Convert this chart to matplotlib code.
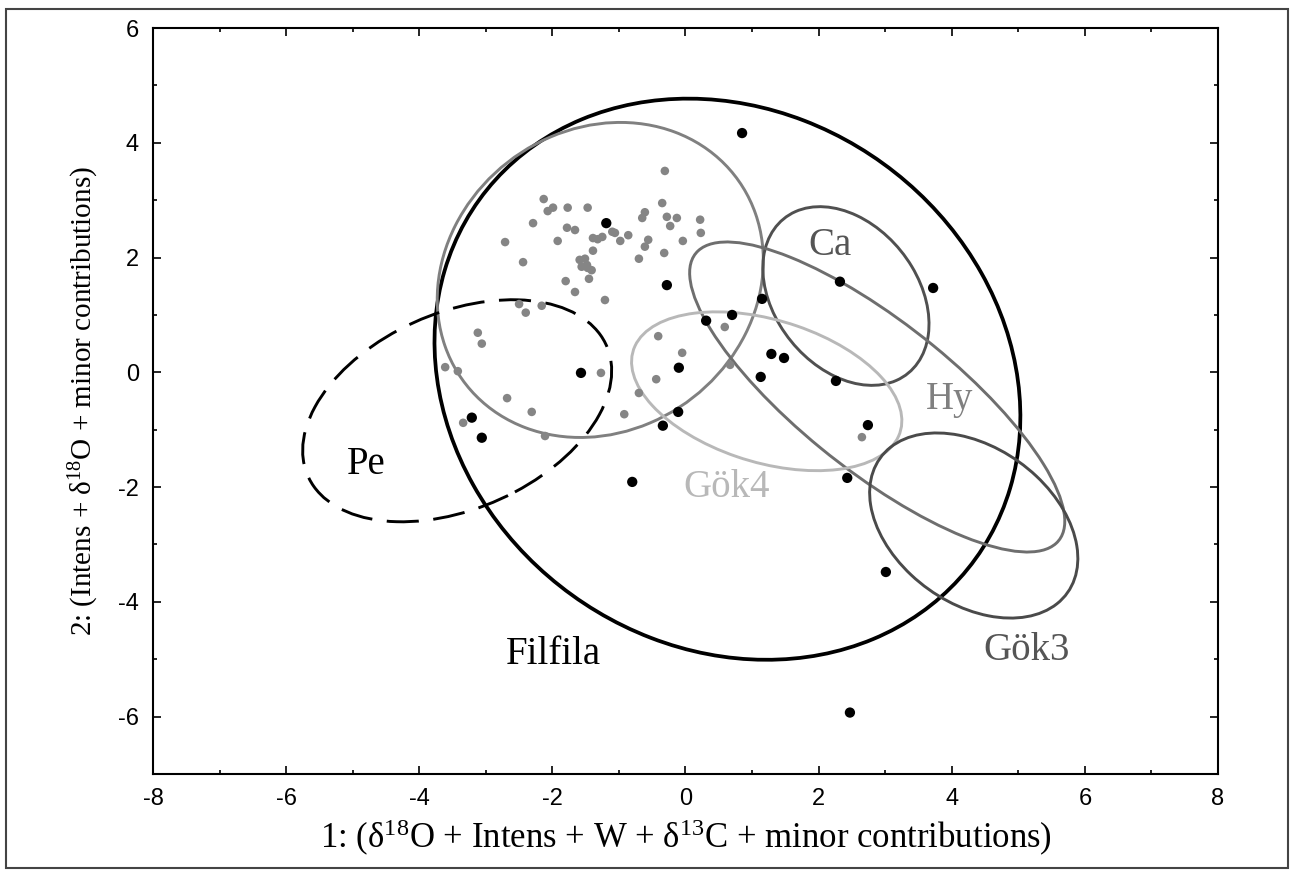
import numpy as np
import matplotlib
matplotlib.use('Agg')
import matplotlib.pyplot as plt
from matplotlib.patches import Ellipse, Rectangle
from matplotlib.ticker import MultipleLocator

plt.rcParams['mathtext.fontset'] = 'custom'
plt.rcParams['mathtext.rm'] = 'Liberation Serif'
plt.rcParams['mathtext.default'] = 'rm'
plt.rcParams['axes.unicode_minus'] = False

# gray samples (scores on factor 1 / factor 2)
gray_x = [-0.31, -2.13, -2.07, -1.99, -1.77, -1.47, -2.29, -1.78, -1.66, -2.71,
          -1.92, -1.39, -1.39, -1.32, -1.25, -1.10, -1.06, -0.98, -0.86, -0.65,
          -0.61, -0.35, -0.28, -0.13, -0.23, 0.22, 0.23, -0.56, -0.61, -0.04,
          -0.32, -0.70, -2.44, -1.59, -1.51, -1.56, -1.47, -1.41, -1.48, -1.45,
          -1.80, -1.66, -1.21, -2.50, -2.16, -2.40, -3.12, -3.06, -3.61, -3.42,
          -1.27, -2.68, -2.31, -3.34, -2.11, 0.59, -0.41, -0.05, -0.44, -0.70,
          0.67, -0.92, 2.65]
gray_y = [3.51, 3.02, 2.81, 2.87, 2.87, 2.87, 2.60, 2.52, 2.48, 2.27,
          2.29, 2.12, 2.34, 2.32, 2.36, 2.45, 2.43, 2.29, 2.39, 2.69,
          2.79, 2.95, 2.71, 2.69, 2.55, 2.66, 2.43, 2.31, 2.19, 2.29,
          2.08, 1.98, 1.92, 1.96, 1.98, 1.84, 1.82, 1.78, 1.87, 1.63,
          1.59, 1.40, 1.26, 1.19, 1.16, 1.04, 0.69, 0.50, 0.09, 0.02,
          -0.01, -0.45, -0.69, -0.88, -1.11, 0.79, 0.63, 0.34, -0.12, -0.36,
          0.13, -0.73, -1.13]

# black samples
black_x = [-3.21, -3.06, -1.57, -0.28, -1.19, -0.80, -0.34, -0.11, -0.10, 0.31,
           0.70, 1.15, 1.29, 1.48, 1.13, 2.26, 2.32, 3.72, 2.74, 2.43,
           3.01, 2.47, 0.85]
black_y = [-0.79, -1.14, -0.01, 1.52, 2.60, -1.91, -0.93, -0.69, 0.08, 0.90,
           1.00, 1.28, 0.32, 0.25, -0.08, -0.15, 1.58, 1.47, -0.92, -1.84,
           -3.48, -5.93, 4.17]

# confidence ellipses
ell_names = ['Filfila', 'group', 'Pe', 'Ca', 'Hy', 'Gök4', 'Gök3']
ell_cx = [0.63, -1.28, -3.43, 2.41, 2.88, 1.22, 4.33]
ell_cy = [-0.12, 1.61, -0.67, 1.33, -0.43, -0.33, -2.67]
ell_w = [8.48, 4.75, 5.05, 3.31, 7.41, 4.26, 3.70]
ell_h = [10.06, 5.62, 3.32, 2.23, 2.46, 2.45, 2.55]
ell_ang = [25.8, -23.5, 31.5, -62.7, -43.5, -21.7, -47.5]
ell_col = ['black', '#808080', 'black', '#505050', '#6e6e6e', '#b8b8b8', '#4a4a4a']
ell_lw = [2.7, 2.1, 2.1, 2.1, 2.1, 2.1, 2.1]

# group labels
lab_text = ['Filfila', 'Pe', 'Ca', 'Hy', 'Gök4', 'Gök3']
lab_x = [-1.99, -4.79, 2.17, 3.97, 0.62, 5.13]
lab_y = [-4.92, -1.61, 2.21, -0.48, -2.01, -4.84]
lab_col = ['black', 'black', '#555555', '#808080', '#b8b8b8', '#555555']

fig = plt.figure(figsize=(12.94, 8.77), dpi=100)
ax = fig.add_axes([0.1182, 0.1175, 0.8231, 0.8505])

for i in range(len(ell_names)):
  ls = (0, (11, 5)) if ell_names[i] == 'Pe' else '-'
  e = Ellipse((ell_cx[i], ell_cy[i]), ell_w[i], ell_h[i], angle=ell_ang[i],
              fill=False, edgecolor=ell_col[i], lw=ell_lw[i], linestyle=ls, zorder=2)
  ax.add_patch(e)

ax.scatter(gray_x, gray_y, s=38, color='#858585', edgecolors='none', zorder=3)
ax.scatter(black_x, black_y, s=55, color='black', edgecolors='none', zorder=4)

for t, x, y, c in zip(lab_text, lab_x, lab_y, lab_col):
  ax.text(x, y, t, color=c, fontsize=28, family='Liberation Serif',
          ha='center', va='center', zorder=5)

ax.set_xlim(-8, 8)
ax.set_ylim(-7, 6)
ax.xaxis.set_major_locator(MultipleLocator(2))
ax.xaxis.set_minor_locator(MultipleLocator(1))
ax.yaxis.set_major_locator(MultipleLocator(2))
ax.yaxis.set_minor_locator(MultipleLocator(1))
ax.tick_params(which='both', direction='in', top=True, right=True, width=1.2)
ax.tick_params(which='major', length=6, labelsize=17, pad=10)
ax.tick_params(which='minor', length=3)
for lbl in ax.get_xticklabels() + ax.get_yticklabels():
  lbl.set_family('Liberation Sans')
for sp in ax.spines.values():
  sp.set_linewidth(1.5)

ax.set_xlabel('1: (δ$^{18}$O + Intens + W + δ$^{13}$C + minor contributions)',
              family='Liberation Serif', fontsize=25, labelpad=6)
ax.set_ylabel('2: (Intens + δ$^{18}$O + minor contributions)',
              family='Liberation Serif', fontsize=21, labelpad=12)

fig.patches.append(Rectangle((0.005, 0.01), 0.99, 0.98, transform=fig.transFigure,
                             fill=False, edgecolor='#444444', lw=1.5))

fig.savefig('out.png', dpi=100)
